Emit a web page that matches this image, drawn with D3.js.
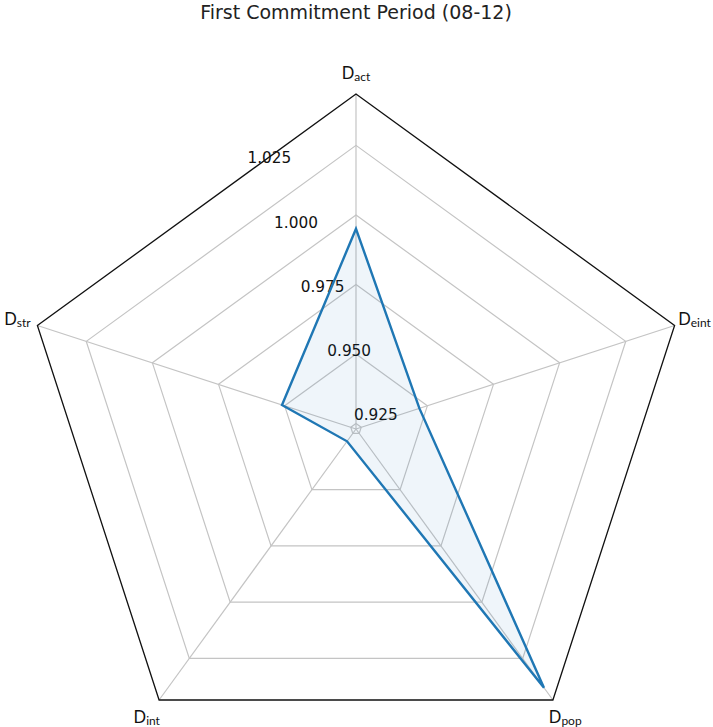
<!DOCTYPE html>
<html>
<head>
<meta charset="utf-8">
<script src="https://cdn.jsdelivr.net/npm/d3@7"></script>
<style>
  html, body { margin: 0; padding: 0; background: #fff; }
  svg { display: block; }
</style>
</head>
<body>
<svg id="chart" width="713" height="727"></svg>
<script>
// Axis names (main letter + subscript), in drawing order counter-clockwise from the top
const axisMain = ["D", "D", "D", "D", "D"];
const axisSub = ["act", "str", "int", "pop", "eint"];
// Values for the first commitment period
const values = [0.995, 0.951, 0.9285, 1.038, 0.947];
// Radial gridline values
const rTicks = [0.925, 0.950, 0.975, 1.000, 1.025];

const title = "First Commitment Period (08-12)";

const width = 713, height = 727;
const cx = 356, cy = 429, R = 335;
const N = values.length;
const blue = "#1f77b4";

const svg = d3.select("#chart");

// Radial extent: data range padded by 5% on each side
const [dMin, dMax] = d3.extent(values);
const pad = (dMax - dMin) * 0.05;
const r = d3.scaleLinear().domain([dMin - pad, dMax + pad]).range([0, R]);

// Angle for axis i (d3 radial convention: clockwise from 12 o'clock)
const ang = i => -i * 2 * Math.PI / N;
const pt = (i, rad) => [cx + rad * Math.sin(ang(i)), cy - rad * Math.cos(ang(i))];

const g = svg.append("g").attr("transform", `translate(${cx},${cy})`);

const ring = d3.lineRadial()
  .angle((d, i) => ang(i))
  .radius(d => d)
  .curve(d3.curveLinearClosed);

// Grid rings
g.append("g").selectAll("path")
  .data(rTicks)
  .join("path")
  .attr("d", t => ring(d3.range(N).map(() => r(t))))
  .attr("fill", "none")
  .attr("stroke", "#c4c4c4")
  .attr("stroke-width", 1.2);

// Spokes
g.append("g").selectAll("line")
  .data(d3.range(N))
  .join("line")
  .attr("x1", 0).attr("y1", 0)
  .attr("x2", i => R * Math.sin(ang(i)))
  .attr("y2", i => -R * Math.cos(ang(i)))
  .attr("stroke", "#c4c4c4")
  .attr("stroke-width", 1.2);

// Radial tick labels along the 22.5° direction
const labAng = -22.5 * Math.PI / 180;
g.append("g").selectAll("text")
  .data(rTicks)
  .join("text")
  .attr("x", t => r(t) * Math.sin(labAng))
  .attr("y", t => -r(t) * Math.cos(labAng) - 3.5)
  .attr("text-anchor", "start")
  .attr("font-family", "DejaVu Sans")
  .attr("font-size", 15.3)
  .attr("fill", "#111")
  .text(d3.format(".3f"));

// Outer frame
g.append("path")
  .attr("d", ring(d3.range(N).map(() => R)))
  .attr("fill", "none")
  .attr("stroke", "#111")
  .attr("stroke-width", 1.3);

// Data polygon
const series = d3.lineRadial()
  .angle((d, i) => ang(i))
  .radius(d => r(d))
  .curve(d3.curveLinearClosed);

g.append("path")
  .attr("d", series(values))
  .attr("fill", blue)
  .attr("fill-opacity", 0.07)
  .attr("stroke", "none");

g.append("path")
  .attr("d", series(values))
  .attr("fill", "none")
  .attr("stroke", blue)
  .attr("stroke-width", 2.4)
  .attr("stroke-linejoin", "miter");

// Axis labels, centred just outside each vertex
const labels = svg.append("g").selectAll("text")
  .data(d3.range(N))
  .join("text")
  .attr("x", i => pt(i, R + 21)[0])
  .attr("y", i => pt(i, R + 21)[1])
  .attr("text-anchor", "middle")
  .attr("dominant-baseline", "central")
  .attr("font-family", "Lato, DejaVu Sans, sans-serif")
  .attr("fill", "#111");
labels.append("tspan").attr("font-size", 16.5).text(i => axisMain[i]);
labels.append("tspan").attr("font-size", 12).attr("dy", 3).text(i => axisSub[i]);

// Title
svg.append("text")
  .attr("x", 356)
  .attr("y", 18.5)
  .attr("text-anchor", "middle")
  .attr("font-family", "DejaVu Sans")
  .attr("font-size", 19)
  .attr("fill", "#222")
  .text(title);
</script>
</body>
</html>
